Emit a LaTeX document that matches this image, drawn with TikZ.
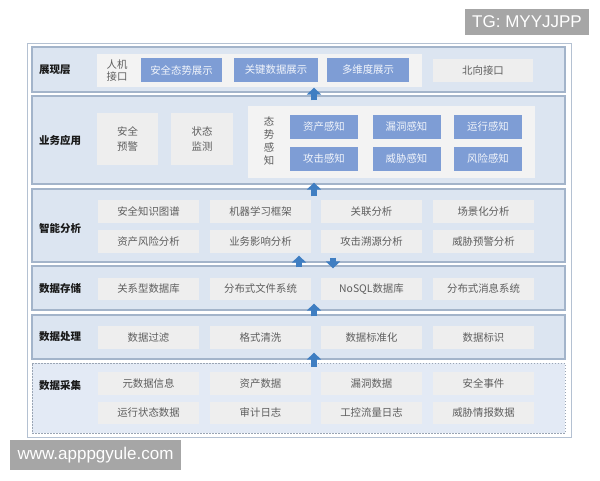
\documentclass[tikz,border=0pt]{standalone}
\usepackage{fontspec}
\setmainfont{Noto Sans CJK SC}
\newfontfamily\wmfont{Liberation Sans}
\usetikzlibrary{arrows.meta}
\usetikzlibrary{calc}

\definecolor{framegray}{HTML}{B4C1D2}
\definecolor{layerblue}{HTML}{DCE5F1}
\definecolor{layerlight}{HTML}{E3EAF5}
\definecolor{layerline}{HTML}{A3B4CA}
\definecolor{dashgray}{HTML}{9AA5B4}
\definecolor{boxgray}{HTML}{EEEEEE}
\definecolor{panegray}{HTML}{F3F3F3}
\definecolor{boxblue}{HTML}{7E9DD5}
\definecolor{textgray}{HTML}{5E5E5E}
\definecolor{arrowblue}{HTML}{3F7EC2}
\definecolor{markgray}{HTML}{A6A6A6}

\begin{document}
\begin{tikzpicture}[x=1pt, y=-1pt,
        frame_style/.style={draw=framegray, fill=white, line width=1pt, minimum width=544pt, minimum height=394pt},
        layer_style/.style={draw=layerline, fill=layerblue, line width=1.2pt, minimum width=533pt},
        dashed_layer_style/.style={draw=dashgray, fill=layerlight, line width=0.8pt, dash pattern=on 1.5pt off 1.5pt, minimum width=533pt},
        title_style/.style={anchor=west, inner sep=0pt, text=black!90, font=\fontsize{10.5}{12}\selectfont\bfseries},
        box_style/.style={fill=boxgray, inner sep=0pt, text=textgray, align=center, font=\fontsize{10.4}{12}\selectfont},
        blue_style/.style={fill=boxblue, inner sep=0pt, text=white!90!boxblue, font=\fontsize{10.4}{12}\selectfont},
        pane_style/.style={fill=panegray, inner sep=0pt},
        arrow_style/.style={draw=arrowblue, line width=6pt, -{Triangle[width=14pt,length=7pt]}},
        mark_style/.style={fill=markgray, text=white, inner sep=0pt, font=\wmfont\fontsize{17}{17}\selectfont}]

        \fill [white] (0,0) rectangle (600,480);
        \useasboundingbox (0,0) rectangle (600,480);

        \node [frame_style] (frame) at (299,240) {};

        \node [layer_style, minimum height=45pt] (present) at (298.5,69.5) {};
        \node [layer_style, minimum height=88pt] (app) at (298.5,140) {};
        \node [layer_style, minimum height=73pt] (analysis) at (298.5,225.5) {};
        \node [layer_style, minimum height=44pt] (storage) at (298.5,288) {};
        \node [layer_style, minimum height=44pt] (process) at (298.5,337) {};
        \node [dashed_layer_style, minimum height=70pt] (collect) at (298.5,398) {};

        \node [title_style] (present-t) at (39,69.5) {展现层};
        \node [title_style] (app-t) at (39,140) {业务应用};
        \node [title_style] (analysis-t) at (39,228) {智能分析};
        \node [title_style] (storage-t) at (39,288.5) {数据存储};
        \node [title_style] (process-t) at (39,337) {数据处理};
        \node [title_style] (collect-t) at (39,386) {数据采集};

        \node [pane_style, minimum width=325pt, minimum height=33pt] (hmi) at (259.5,70.5) {};
        \node [box_style, fill=none, font=\fontsize{10.4}{12}\selectfont] (hmi-t) at (117,70.5) {人机\\接口};
        \node [blue_style, minimum width=81pt, minimum height=24pt] (p1) at (181.5,70) {安全态势展示};
        \node [blue_style, minimum width=84pt, minimum height=24pt] (p2) at (276,70) {关键数据展示};
        \node [blue_style, minimum width=82pt, minimum height=24pt] (p3) at (368,70) {多维度展示};
        \node [box_style, minimum width=100pt, minimum height=23pt] (p4) at (483,70.5) {北向接口};

        \node [box_style, minimum width=61pt, minimum height=52pt, font=\fontsize{10.4}{15}\selectfont] (a1) at (127.5,139) {安全\\预警};
        \node [box_style, minimum width=62pt, minimum height=52pt, font=\fontsize{10.4}{15}\selectfont] (a2) at (202,139) {状态\\监测};
        \node [pane_style, minimum width=287pt, minimum height=72pt] (sense) at (391.5,142) {};
        \node [box_style, fill=none, font=\fontsize{10.4}{12.8}\selectfont] (sense-t) at (269,141) {态\\势\\感\\知};
        \node [blue_style, minimum width=68pt, minimum height=24pt] (s1) at (324,127) {资产感知};
        \node [blue_style, minimum width=68pt, minimum height=24pt] (s2) at (406.5,127) {漏洞感知};
        \node [blue_style, minimum width=68pt, minimum height=24pt] (s3) at (488,127) {运行感知};
        \node [blue_style, minimum width=68pt, minimum height=24pt] (s4) at (324,159) {攻击感知};
        \node [blue_style, minimum width=68pt, minimum height=24pt] (s5) at (406.5,159) {威胁感知};
        \node [blue_style, minimum width=68pt, minimum height=24pt] (s6) at (488,159) {风险感知};

        \node [box_style, minimum width=101pt, minimum height=23pt] (i1) at (148.5,211.5) {安全知识图谱};
        \node [box_style, minimum width=101pt, minimum height=23pt] (i2) at (260.5,211.5) {机器学习框架};
        \node [box_style, minimum width=101pt, minimum height=23pt] (i3) at (371.5,211.5) {关联分析};
        \node [box_style, minimum width=101pt, minimum height=23pt] (i4) at (483.5,211.5) {场景化分析};
        \node [box_style, minimum width=101pt, minimum height=23pt] (i5) at (148.5,241.5) {资产风险分析};
        \node [box_style, minimum width=101pt, minimum height=23pt] (i6) at (260.5,241.5) {业务影响分析};
        \node [box_style, minimum width=101pt, minimum height=23pt] (i7) at (371.5,241.5) {攻击溯源分析};
        \node [box_style, minimum width=101pt, minimum height=23pt] (i8) at (483.5,241.5) {威胁预警分析};

        \node [box_style, minimum width=101pt, minimum height=22pt] (d1) at (148.5,289) {关系型数据库};
        \node [box_style, minimum width=101pt, minimum height=22pt] (d2) at (260.5,289) {分布式文件系统};
        \node [box_style, minimum width=101pt, minimum height=22pt] (d3) at (371.5,289) {NoSQL数据库};
        \node [box_style, minimum width=101pt, minimum height=22pt] (d4) at (483.5,289) {分布式消息系统};

        \node [box_style, minimum width=101pt, minimum height=23pt] (c1) at (148.5,337.5) {数据过滤};
        \node [box_style, minimum width=101pt, minimum height=23pt] (c2) at (260.5,337.5) {格式清洗};
        \node [box_style, minimum width=101pt, minimum height=23pt] (c3) at (371.5,337.5) {数据标准化};
        \node [box_style, minimum width=101pt, minimum height=23pt] (c4) at (483.5,337.5) {数据标识};

        \node [box_style, minimum width=101pt, minimum height=22.5pt] (g1) at (148.5,383.5) {元数据信息};
        \node [box_style, minimum width=101pt, minimum height=22.5pt] (g2) at (260.5,383.5) {资产数据};
        \node [box_style, minimum width=101pt, minimum height=22.5pt] (g3) at (371.5,383.5) {漏洞数据};
        \node [box_style, minimum width=101pt, minimum height=22.5pt] (g4) at (483.5,383.5) {安全事件};
        \node [box_style, minimum width=101pt, minimum height=22.5pt] (g5) at (148.5,413) {运行状态数据};
        \node [box_style, minimum width=101pt, minimum height=22.5pt] (g6) at (260.5,413) {审计日志};
        \node [box_style, minimum width=101pt, minimum height=22.5pt] (g7) at (371.5,413) {工控流量日志};
        \node [box_style, minimum width=101pt, minimum height=22.5pt] (g8) at (483.5,413) {威胁情报数据};

        \coordinate (mid) at (314,0);
        \coordinate (up) at (299,0);
        \coordinate (down) at (333,0);

        \draw [arrow_style] ($(app.north -| mid)+(0,5)$) -- ($(present.south -| mid)+(0,-5)$);
        \draw [arrow_style] ($(analysis.north -| mid)+(0,8)$) -- ($(app.south -| mid)+(0,-2)$);
        \draw [arrow_style] ($(storage.north -| up)+(0,2)$) -- ($(analysis.south -| up)+(0,-7)$);
        \draw [arrow_style] ($(analysis.south -| down)+(0,-5)$) -- ($(storage.north -| down)+(0,3)$);
        \draw [arrow_style] ($(process.north -| mid)+(0,2)$) -- ($(storage.south -| mid)+(0,-7)$);
        \draw [arrow_style] ($(collect.north -| mid)+(0,4)$) -- ($(process.south -| mid)+(0,-7)$);

        \node [mark_style, minimum width=124pt, minimum height=26pt] (tg) at (527,22) {TG: MYYJJPP};
        \node [mark_style, minimum width=171pt, minimum height=30pt] (www) at (95.5,455) {www.apppgyule.com};

        \end{tikzpicture}
\end{document}
